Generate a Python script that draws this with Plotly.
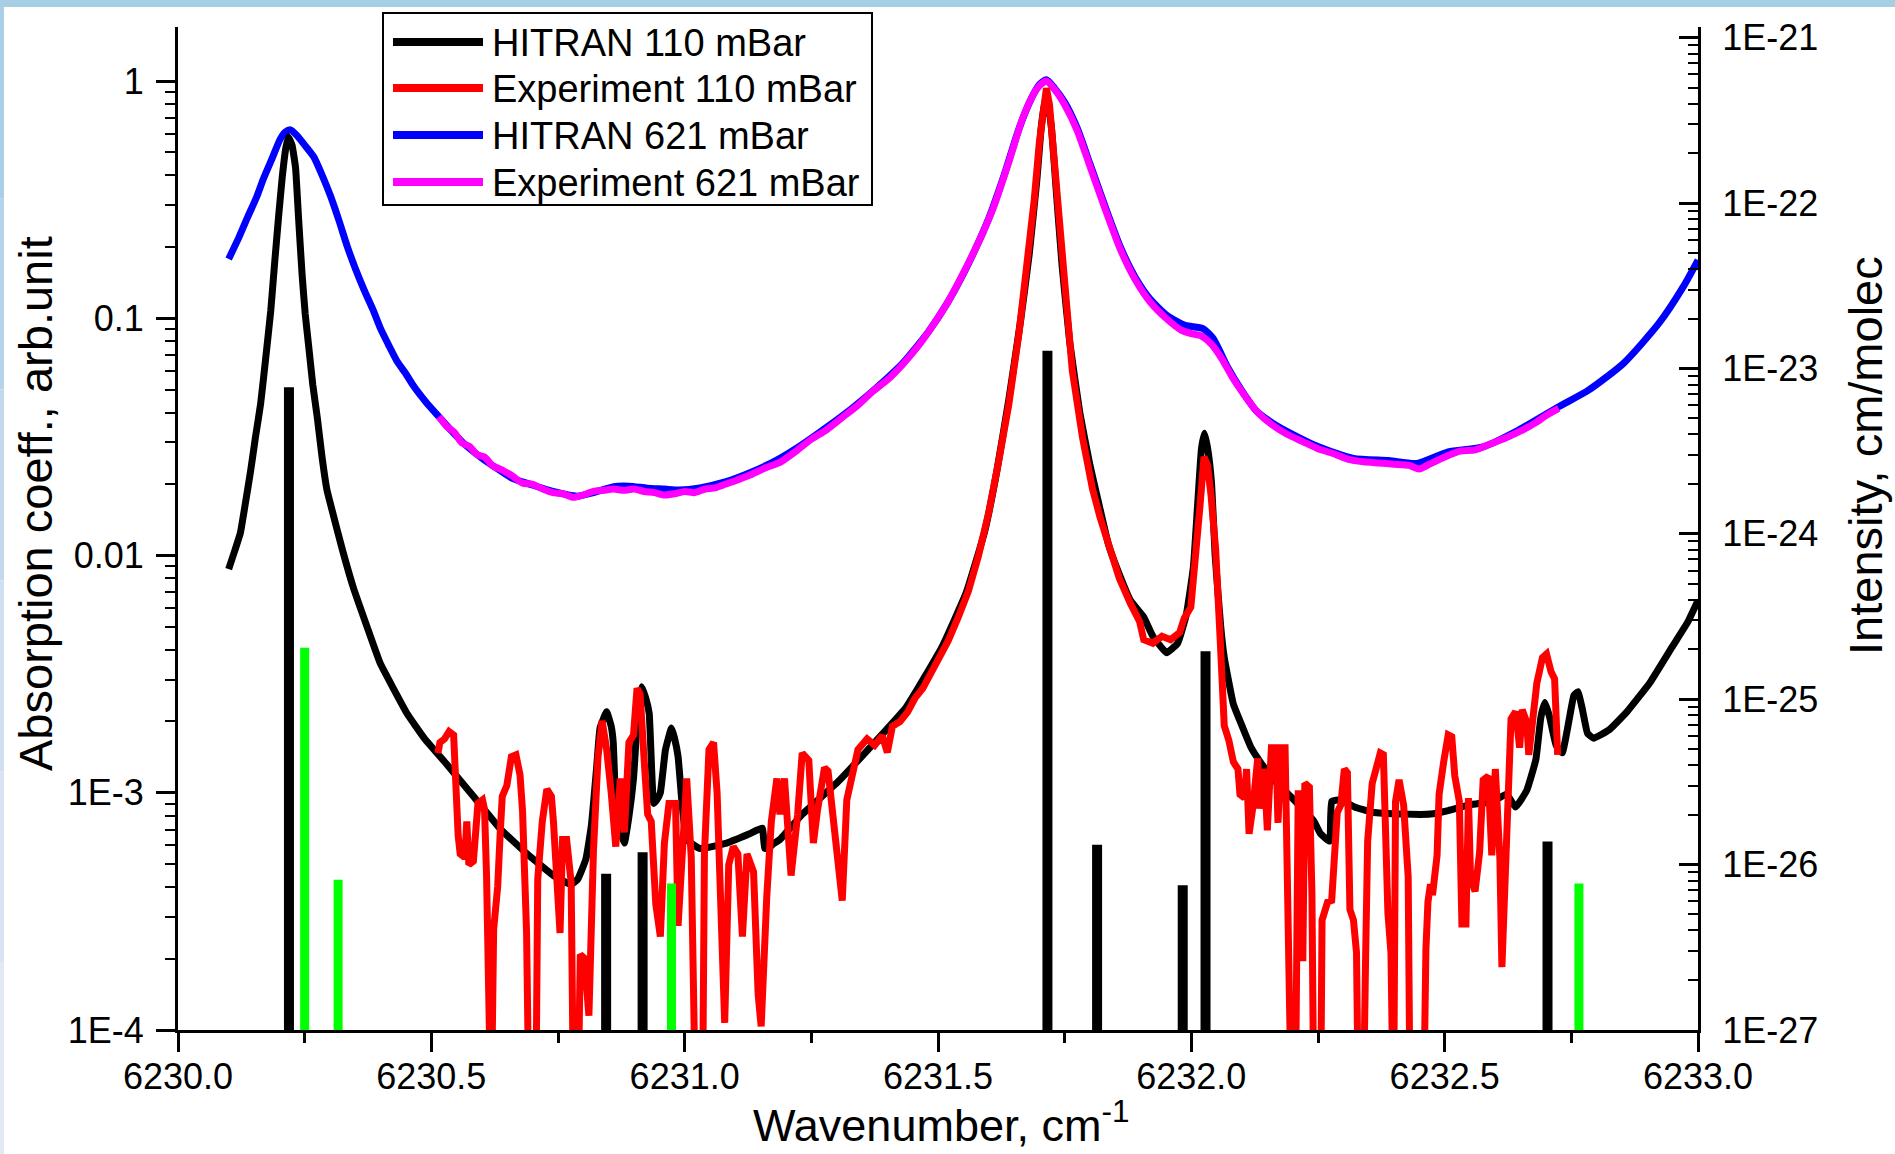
import plotly.graph_objects as go

# ---------------- data ----------------
# wavenumber (cm-1), log10(absorption coeff., arb. unit)
hitran110 = [
    (6230.100, -2.057), (6230.112, -1.980), (6230.123, -1.906), (6230.133, -1.780), (6230.143, -1.648),
    (6230.153, -1.500), (6230.163, -1.362), (6230.173, -1.170), (6230.183, -0.970), (6230.191, -0.760),
    (6230.199, -0.560), (6230.206, -0.400), (6230.213, -0.280), (6230.218, -0.236), (6230.225, -0.270),
    (6230.232, -0.365), (6230.238, -0.580), (6230.245, -0.818), (6230.251, -0.980), (6230.258, -1.120),
    (6230.266, -1.280), (6230.275, -1.420), (6230.284, -1.580), (6230.294, -1.724), (6230.303, -1.800),
    (6230.325, -1.980), (6230.346, -2.135), (6230.373, -2.300), (6230.399, -2.454), (6230.425, -2.560),
    (6230.452, -2.666), (6230.487, -2.773), (6230.530, -2.879), (6230.583, -3.015), (6230.636, -3.152),
    (6230.689, -3.258), (6230.741, -3.349), (6230.776, -3.387), (6230.789, -3.364), (6230.805, -3.280),
    (6230.816, -3.136), (6230.826, -2.900), (6230.833, -2.727), (6230.846, -2.659), (6230.855, -2.720),
    (6230.859, -2.788), (6230.864, -3.045), (6230.872, -3.150), (6230.881, -3.212), (6230.890, -3.100),
    (6230.899, -2.940), (6230.908, -2.650), (6230.915, -2.553), (6230.923, -2.600), (6230.930, -2.666),
    (6230.939, -3.045), (6230.945, -3.030), (6230.952, -3.000), (6230.962, -2.820), (6230.974, -2.727),
    (6230.980, -2.770), (6230.987, -2.848), (6230.995, -3.050), (6231.004, -3.197), (6231.030, -3.235),
    (6231.083, -3.212), (6231.127, -3.174), (6231.153, -3.149), (6231.158, -3.235), (6231.165, -3.235),
    (6231.175, -3.215), (6231.188, -3.197), (6231.232, -3.091), (6231.302, -2.955), (6231.362, -2.818),
    (6231.437, -2.640), (6231.508, -2.385), (6231.556, -2.155), (6231.592, -1.900), (6231.616, -1.646),
    (6231.640, -1.340), (6231.663, -1.010), (6231.680, -0.730), (6231.695, -0.420), (6231.704, -0.190),
    (6231.714, -0.050), (6231.724, -0.200), (6231.734, -0.480), (6231.745, -0.780), (6231.760, -1.100),
    (6231.780, -1.400), (6231.800, -1.620), (6231.814, -1.750), (6231.836, -1.950), (6231.858, -2.080),
    (6231.880, -2.190), (6231.906, -2.260), (6231.924, -2.340), (6231.951, -2.410), (6231.973, -2.370),
    (6231.990, -2.250), (6232.004, -2.050), (6232.012, -1.800), (6232.020, -1.550), (6232.026, -1.485),
    (6232.033, -1.560), (6232.040, -1.700), (6232.047, -2.000), (6232.058, -2.300), (6232.065, -2.430),
    (6232.083, -2.627), (6232.100, -2.718), (6232.118, -2.810), (6232.136, -2.870), (6232.163, -2.946),
    (6232.198, -3.020), (6232.242, -3.120), (6232.255, -3.173), (6232.273, -3.204), (6232.277, -3.037),
    (6232.295, -3.030), (6232.322, -3.060), (6232.357, -3.082), (6232.419, -3.090), (6232.472, -3.090),
    (6232.507, -3.075), (6232.551, -3.050), (6232.595, -3.037), (6232.622, -3.006), (6232.640, -3.060),
    (6232.662, -2.990), (6232.680, -2.860), (6232.690, -2.680), (6232.698, -2.620), (6232.707, -2.680),
    (6232.720, -2.800), (6232.732, -2.832), (6232.745, -2.700), (6232.755, -2.590), (6232.763, -2.574),
    (6232.772, -2.650), (6232.782, -2.750), (6232.794, -2.770), (6232.825, -2.734), (6232.860, -2.658),
    (6232.905, -2.536), (6232.949, -2.385), (6232.980, -2.280), (6233.000, -2.190),
]

experiment110 = [
    (6230.513, -2.833), (6230.517, -2.788), (6230.526, -2.773), (6230.535, -2.742), (6230.544, -2.757),
    (6230.548, -2.985), (6230.553, -3.182), (6230.557, -3.258), (6230.566, -3.273), (6230.570, -3.121),
    (6230.574, -3.303), (6230.583, -3.288), (6230.588, -3.106), (6230.592, -3.045), (6230.601, -3.030),
    (6230.605, -3.070), (6230.609, -3.349), (6230.611, -3.804), (6230.614, -4.400), (6230.618, -4.400),
    (6230.623, -3.576), (6230.631, -3.394), (6230.636, -3.167), (6230.640, -3.015), (6230.649, -2.970),
    (6230.658, -2.848), (6230.667, -2.840), (6230.675, -2.924), (6230.680, -3.076), (6230.684, -3.258),
    (6230.688, -3.591), (6230.693, -4.400), (6230.706, -4.400), (6230.710, -3.364), (6230.719, -3.121),
    (6230.728, -2.985), (6230.737, -3.015), (6230.741, -3.121), (6230.746, -3.364), (6230.754, -3.591),
    (6230.759, -3.197), (6230.767, -3.197), (6230.776, -3.379), (6230.781, -4.400), (6230.789, -4.400),
    (6230.794, -3.682), (6230.802, -3.697), (6230.811, -3.940), (6230.820, -3.243), (6230.829, -2.848),
    (6230.837, -2.697), (6230.846, -2.818), (6230.855, -3.000), (6230.864, -3.227), (6230.873, -2.940),
    (6230.881, -3.167), (6230.890, -2.788), (6230.899, -2.757), (6230.906, -2.560), (6230.912, -2.583),
    (6230.921, -2.894), (6230.927, -3.091), (6230.934, -3.121), (6230.943, -3.470), (6230.952, -3.606),
    (6230.960, -3.212), (6230.969, -3.045), (6230.982, -3.045), (6230.987, -3.561), (6230.996, -3.167),
    (6231.004, -2.940), (6231.013, -3.273), (6231.022, -4.400), (6231.035, -4.400), (6231.039, -3.258),
    (6231.048, -2.818), (6231.057, -2.788), (6231.064, -3.000), (6231.070, -3.425), (6231.079, -3.970),
    (6231.087, -3.303), (6231.096, -3.227), (6231.105, -3.258), (6231.114, -3.606), (6231.123, -3.258),
    (6231.136, -3.334), (6231.145, -3.849), (6231.151, -3.985), (6231.162, -3.440), (6231.171, -3.121),
    (6231.182, -2.940), (6231.188, -3.091), (6231.197, -2.940), (6231.210, -3.349), (6231.223, -3.091),
    (6231.232, -2.833), (6231.245, -2.864), (6231.254, -3.212), (6231.262, -3.076), (6231.276, -2.894),
    (6231.283, -2.909), (6231.297, -3.197), (6231.305, -3.364), (6231.311, -3.455), (6231.320, -3.030),
    (6231.329, -2.955), (6231.342, -2.818), (6231.360, -2.773), (6231.375, -2.800), (6231.390, -2.760),
    (6231.400, -2.830), (6231.410, -2.720), (6231.425, -2.700), (6231.440, -2.660), (6231.455, -2.600),
    (6231.470, -2.560), (6231.485, -2.500), (6231.500, -2.440), (6231.520, -2.360), (6231.540, -2.260),
    (6231.560, -2.150), (6231.580, -2.000), (6231.600, -1.820), (6231.620, -1.600), (6231.640, -1.360),
    (6231.660, -1.060), (6231.675, -0.800), (6231.690, -0.500), (6231.700, -0.260), (6231.708, -0.100),
    (6231.714, -0.030), (6231.720, -0.100), (6231.728, -0.300), (6231.738, -0.600), (6231.750, -0.920),
    (6231.765, -1.220), (6231.785, -1.500), (6231.805, -1.720), (6231.820, -1.840), (6231.836, -1.945),
    (6231.858, -2.097), (6231.880, -2.203), (6231.898, -2.279), (6231.906, -2.355), (6231.924, -2.370),
    (6231.942, -2.340), (6231.959, -2.355), (6231.977, -2.324), (6231.986, -2.264), (6231.999, -2.218),
    (6232.008, -2.036), (6232.017, -1.793), (6232.025, -1.584), (6232.032, -1.620), (6232.039, -1.748),
    (6232.048, -1.975), (6232.057, -2.355), (6232.061, -2.582), (6232.065, -2.718), (6232.074, -2.779),
    (6232.083, -2.870), (6232.092, -2.900), (6232.096, -3.007), (6232.105, -3.022), (6232.109, -2.900),
    (6232.114, -3.173), (6232.122, -3.052), (6232.131, -2.855), (6232.135, -3.067), (6232.144, -2.900),
    (6232.150, -3.158), (6232.158, -2.810), (6232.167, -2.810), (6232.171, -3.127), (6232.178, -2.810),
    (6232.185, -2.810), (6232.189, -3.204), (6232.193, -3.537), (6232.198, -4.400), (6232.205, -4.400),
    (6232.207, -3.860), (6232.211, -2.990), (6232.220, -3.710), (6232.224, -2.960), (6232.233, -2.976),
    (6232.238, -3.420), (6232.242, -4.400), (6232.255, -4.400), (6232.258, -3.537), (6232.269, -3.460),
    (6232.277, -3.454), (6232.282, -3.264), (6232.288, -3.083), (6232.295, -3.052), (6232.302, -2.900),
    (6232.308, -2.916), (6232.313, -3.492), (6232.320, -3.537), (6232.326, -3.674), (6232.330, -4.400),
    (6232.339, -4.400), (6232.344, -3.689), (6232.348, -3.204), (6232.357, -2.960), (6232.366, -2.900),
    (6232.373, -2.832), (6232.379, -2.839), (6232.383, -3.173), (6232.388, -3.507), (6232.394, -3.674),
    (6232.399, -4.400), (6232.403, -3.037), (6232.410, -2.946), (6232.419, -3.052), (6232.423, -3.264),
    (6232.428, -3.355), (6232.432, -4.400), (6232.458, -4.400), (6232.463, -3.659), (6232.467, -3.460),
    (6232.472, -3.386), (6232.476, -3.431), (6232.485, -3.264), (6232.489, -3.007), (6232.498, -2.870),
    (6232.507, -2.756), (6232.514, -2.764), (6232.520, -2.930), (6232.529, -3.037), (6232.534, -3.553),
    (6232.542, -3.553), (6232.547, -3.022), (6232.551, -3.355), (6232.560, -3.416), (6232.569, -3.250),
    (6232.576, -2.946), (6232.586, -2.930), (6232.593, -3.264), (6232.600, -2.900), (6232.609, -3.280),
    (6232.613, -3.735), (6232.620, -3.250), (6232.626, -3.022), (6232.631, -2.688), (6232.640, -2.658),
    (6232.648, -2.810), (6232.653, -2.650), (6232.662, -2.703), (6232.666, -2.840), (6232.675, -2.658),
    (6232.682, -2.537), (6232.693, -2.430), (6232.701, -2.415), (6232.710, -2.490), (6232.717, -2.520),
    (6232.723, -2.840),
]

hitran621 = [
    (6230.100, -0.750), (6230.120, -0.660), (6230.137, -0.576), (6230.155, -0.490), (6230.169, -0.410),
    (6230.185, -0.330), (6230.202, -0.244), (6230.212, -0.215), (6230.222, -0.206), (6230.235, -0.230),
    (6230.250, -0.270), (6230.268, -0.320), (6230.285, -0.400), (6230.301, -0.485), (6230.318, -0.590),
    (6230.334, -0.697), (6230.350, -0.790), (6230.367, -0.879), (6230.385, -0.965), (6230.400, -1.045),
    (6230.415, -1.110), (6230.432, -1.180), (6230.450, -1.235), (6230.465, -1.286), (6230.490, -1.355),
    (6230.515, -1.415), (6230.540, -1.475), (6230.564, -1.528), (6230.600, -1.590), (6230.630, -1.634),
    (6230.660, -1.675), (6230.695, -1.700), (6230.740, -1.730), (6230.788, -1.750), (6230.820, -1.735),
    (6230.860, -1.710), (6230.890, -1.708), (6230.926, -1.716), (6230.960, -1.720), (6230.990, -1.724),
    (6231.030, -1.715), (6231.080, -1.690), (6231.130, -1.650), (6231.180, -1.600), (6231.230, -1.535),
    (6231.280, -1.460), (6231.330, -1.380), (6231.380, -1.290), (6231.430, -1.190), (6231.480, -1.060),
    (6231.520, -0.930), (6231.560, -0.770), (6231.600, -0.580), (6231.630, -0.400), (6231.660, -0.200),
    (6231.685, -0.070), (6231.700, -0.015), (6231.714, 0.005), (6231.730, -0.030), (6231.750, -0.090),
    (6231.775, -0.200), (6231.800, -0.350), (6231.830, -0.530), (6231.860, -0.700), (6231.890, -0.830),
    (6231.919, -0.920), (6231.953, -0.990), (6231.988, -1.030), (6232.022, -1.043), (6232.043, -1.085),
    (6232.071, -1.204), (6232.099, -1.303), (6232.127, -1.387), (6232.161, -1.443), (6232.196, -1.485),
    (6232.251, -1.542), (6232.320, -1.591), (6232.390, -1.600), (6232.445, -1.612), (6232.507, -1.563),
    (6232.576, -1.542), (6232.646, -1.471), (6232.725, -1.373), (6232.784, -1.303), (6232.853, -1.190),
    (6232.923, -1.021), (6232.971, -0.867), (6233.000, -0.755),
]

experiment621 = [
    (6230.515, -1.415), (6230.530, -1.455), (6230.545, -1.480), (6230.560, -1.525), (6230.575, -1.540),
    (6230.590, -1.575), (6230.605, -1.585), (6230.620, -1.620), (6230.640, -1.640), (6230.660, -1.665),
    (6230.680, -1.695), (6230.700, -1.700), (6230.720, -1.720), (6230.740, -1.735), (6230.760, -1.740),
    (6230.780, -1.755), (6230.800, -1.745), (6230.820, -1.730), (6230.840, -1.725), (6230.860, -1.720),
    (6230.880, -1.725), (6230.900, -1.720), (6230.920, -1.730), (6230.940, -1.735), (6230.960, -1.745),
    (6230.980, -1.740), (6231.000, -1.730), (6231.020, -1.735), (6231.040, -1.720), (6231.060, -1.715),
    (6231.080, -1.700), (6231.100, -1.685), (6231.130, -1.660), (6231.160, -1.630), (6231.190, -1.605),
    (6231.220, -1.560), (6231.250, -1.510), (6231.280, -1.470), (6231.310, -1.420), (6231.340, -1.370),
    (6231.370, -1.310), (6231.400, -1.260), (6231.430, -1.195), (6231.460, -1.120), (6231.490, -1.030),
    (6231.520, -0.930), (6231.550, -0.810), (6231.580, -0.680), (6231.610, -0.530), (6231.640, -0.340),
    (6231.665, -0.170), (6231.685, -0.070), (6231.700, -0.020), (6231.714, 0.000), (6231.730, -0.035),
    (6231.750, -0.100), (6231.775, -0.210), (6231.800, -0.360), (6231.830, -0.540), (6231.860, -0.710),
    (6231.890, -0.840), (6231.920, -0.935), (6231.950, -1.000), (6231.980, -1.050), (6232.000, -1.065),
    (6232.020, -1.075), (6232.040, -1.110), (6232.060, -1.170), (6232.080, -1.245), (6232.100, -1.310),
    (6232.130, -1.395), (6232.160, -1.450), (6232.190, -1.490), (6232.220, -1.520), (6232.250, -1.550),
    (6232.280, -1.570), (6232.310, -1.595), (6232.340, -1.605), (6232.370, -1.610), (6232.400, -1.615),
    (6232.430, -1.620), (6232.450, -1.635), (6232.470, -1.615), (6232.500, -1.585), (6232.530, -1.560),
    (6232.560, -1.555), (6232.590, -1.530), (6232.620, -1.505), (6232.650, -1.475), (6232.680, -1.440),
    (6232.700, -1.410), (6232.725, -1.380),
]

# line intensities (cm/molec), right axis
sticks_black_wn = [6230.219, 6230.845, 6230.917, 6231.716, 6231.814, 6231.983, 6232.028, 6232.703]
sticks_black_int = [7.7e-24, 8.8e-27, 1.19e-26, 1.28e-23, 1.32e-26, 7.5e-27, 1.95e-25, 1.38e-26]
sticks_green_wn = [6230.250, 6230.316, 6230.974, 6232.765]
sticks_green_int = [2.05e-25, 8.1e-27, 7.7e-27, 7.7e-27]

left_tick_vals = [1e-4, 1e-3, 1e-2, 1e-1, 1]
left_tick_text = ["1E-4", "1E-3", "0.01", "0.1", "1"]
right_tick_vals = [1e-27, 1e-26, 1e-25, 1e-24, 1e-23, 1e-22, 1e-21]
right_tick_text = ["1E-27", "1E-26", "1E-25", "1E-24", "1E-23", "1E-22", "1E-21"]

series_names = ["HITRAN 110 mBar", "Experiment 110 mBar", "HITRAN 621 mBar", "Experiment 621 mBar"]
series_colors = ["#000000", "#ff0000", "#0000ff", "#ff00ff"]

# ---------------- layout geometry ----------------
FONT = "Liberation Sans, Arial, Helvetica, sans-serif"
W, H = 1895, 1154
L, R, T, B = 178, 1698, 27, 1030


def xp(px):
    return (px - L) / (R - L)


def yp(py):
    return (B - py) / (B - T)


def split(pairs):
    return [p[0] for p in pairs], [10 ** p[1] for p in pairs]


fig = go.Figure()
LW = 7
for pairs, name, color, shape, sm in [(hitran621, series_names[2], series_colors[2], "spline", 0.6),
                                      (experiment621, series_names[3], series_colors[3], "spline", 0.6),
                                      (hitran110, series_names[0], series_colors[0], "spline", 0.35),
                                      (experiment110, series_names[1], series_colors[1], "linear", 1.0)]:
    xs, ys = split(pairs)
    fig.add_trace(go.Scatter(x=xs, y=ys, mode="lines", name=name,
                             line=dict(color=color, width=LW, shape=shape, smoothing=sm),
                             showlegend=False))


def stick_xy(wn, inten):
    sx, sy = [], []
    for x, v in zip(wn, inten):
        sx += [x, x, None]
        sy += [1e-28, v, None]
    return sx, sy


bx, by = stick_xy(sticks_black_wn, sticks_black_int)
fig.add_trace(go.Scatter(x=bx, y=by, yaxis="y2", mode="lines", name="HITRAN lines",
                         line=dict(color="#000000", width=10), showlegend=False))
gx, gy = stick_xy(sticks_green_wn, sticks_green_int)
fig.add_trace(go.Scatter(x=gx, y=gy, yaxis="y2", mode="lines", name="HITRAN lines (other)",
                         line=dict(color="#00ff00", width=9), showlegend=False))

minor_left = [k * 10 ** e for e in range(-4, 1) for k in range(2, 10)]
minor_right = [k * 10 ** e for e in range(-27, -21) for k in range(2, 10)]

tickfont = dict(family=FONT, size=36, color="black")

fig.update_layout(
    width=W, height=H,
    margin=dict(l=L, r=W - R, t=T, b=H - B, pad=0),
    paper_bgcolor="white", plot_bgcolor="white",
    showlegend=False,
    font=dict(family=FONT, color="black", size=36),
    xaxis=dict(range=[6230, 6233], tick0=6230, dtick=0.5, tickformat=".1f",
               ticks="outside", ticklen=19, tickwidth=3, tickcolor="black",
               showline=True, linewidth=3, linecolor="black",
               showgrid=False, zeroline=False, tickfont=tickfont, ticklabelstandoff=-6,
               minor=dict(tick0=6230, dtick=0.25, ticks="outside", ticklen=10,
                          tickwidth=3, tickcolor="black", showgrid=False)),
    yaxis=dict(type="log", range=[-4, 0.2276], tickmode="array",
               tickvals=left_tick_vals, ticktext=left_tick_text,
               ticks="outside", ticklen=19, tickwidth=3, tickcolor="black",
               showline=True, linewidth=3, linecolor="black",
               showgrid=False, zeroline=False, tickfont=tickfont, ticklabelstandoff=5,
               minor=dict(tickmode="array", tickvals=minor_left, ticks="outside",
                          ticklen=10, tickwidth=2, tickcolor="black", showgrid=False)),
    yaxis2=dict(type="log", overlaying="y", side="right", range=[-27, -20.935],
                tickmode="array", tickvals=right_tick_vals, ticktext=right_tick_text,
                ticks="inside", ticklen=19, tickwidth=3, tickcolor="black",
                showline=True, linewidth=3, linecolor="black",
                showgrid=False, zeroline=False, tickfont=tickfont, ticklabelstandoff=14,
                minor=dict(tickmode="array", tickvals=minor_right, ticks="inside",
                           ticklen=10, tickwidth=2, tickcolor="black", showgrid=False)),
)

shapes = []
annotations = []

# page decoration: light-blue band at top and gradient strip at left
shapes.append(dict(type="rect", xref="paper", yref="paper", x0=xp(0), x1=xp(W), y0=yp(7), y1=yp(0),
                   fillcolor="#a6cfe3", line=dict(width=0), layer="above"))
strip_cols = ["#a9cfe6", "#b6d3ea", "#c3d8ee", "#cfdef1", "#d9e3f4", "#e1e8f6"]
n = len(strip_cols)
for i, c in enumerate(strip_cols):
    shapes.append(dict(type="rect", xref="paper", yref="paper", x0=xp(0), x1=xp(4),
                       y0=yp(7 + (H - 7) * (i + 1) / n), y1=yp(7 + (H - 7) * i / n),
                       fillcolor=c, line=dict(width=0), layer="above"))

# legend box
shapes.append(dict(type="rect", xref="paper", yref="paper", x0=xp(383), x1=xp(872),
                   y0=yp(205), y1=yp(13), fillcolor="white", line=dict(color="black", width=2),
                   layer="above"))
row_y = [42, 88, 135, 182]
for name, color, ry in zip(series_names, series_colors, row_y):
    shapes.append(dict(type="line", xref="paper", yref="paper", x0=xp(393), x1=xp(483),
                       y0=yp(ry), y1=yp(ry), line=dict(color=color, width=8), layer="above"))
    annotations.append(dict(xref="paper", yref="paper", x=xp(490), y=yp(ry + 1), text=name,
                            xanchor="left", yanchor="middle", showarrow=False,
                            font=dict(family=FONT, size=38, color="black")))

# axis titles
annotations.append(dict(xref="paper", yref="paper", x=xp(941), y=yp(1153),
                        text="Wavenumber, cm<sup>-1</sup>", xanchor="center", yanchor="bottom",
                        showarrow=False, font=dict(family=FONT, size=45, color="black")))
annotations.append(dict(xref="paper", yref="paper", x=xp(36), y=yp(504),
                        text="Absorption coeff., arb.unit", textangle=-90,
                        xanchor="center", yanchor="middle",
                        showarrow=False, font=dict(family=FONT, size=47, color="black")))
annotations.append(dict(xref="paper", yref="paper", x=xp(1866), y=yp(455),
                        text="Intensity, cm/molec", textangle=-90,
                        xanchor="center", yanchor="middle",
                        showarrow=False, font=dict(family=FONT, size=47, color="black")))

fig.update_layout(shapes=shapes, annotations=annotations)

fig.write_html("out.html")
